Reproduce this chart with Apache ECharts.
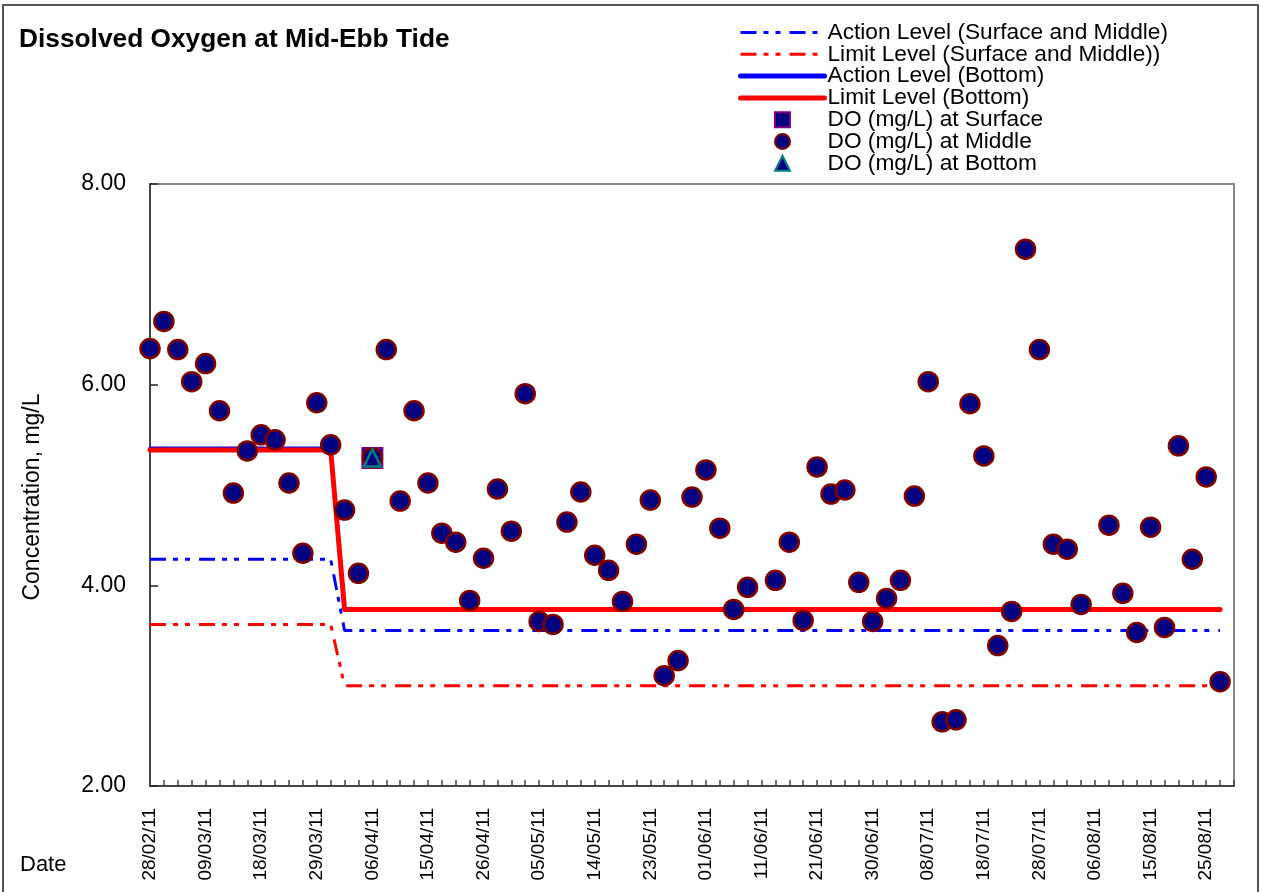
<!DOCTYPE html>
<html>
<head>
<meta charset="UTF-8">
<title>Dissolved Oxygen at Mid-Ebb Tide</title>
<script src="https://cdn.jsdelivr.net/npm/echarts@6/dist/echarts.min.js"></script>
<style>
  html, body { margin: 0; padding: 0; background: #fff; }
  #chart { width: 1261px; height: 892px; }
</style>
</head>
<body>
<div id="chart"></div>
<script type="text/javascript">
// sampling dates (category axis)
var dates = [
  '28/02/11','02/03/11','04/03/11','07/03/11','09/03/11','11/03/11','14/03/11','16/03/11',
  '18/03/11','21/03/11','23/03/11','25/03/11','29/03/11','31/03/11','01/04/11','04/04/11',
  '06/04/11','08/04/11','11/04/11','13/04/11','15/04/11','18/04/11','20/04/11','21/04/11',
  '26/04/11','28/04/11','29/04/11','03/05/11','05/05/11','07/05/11','09/05/11','11/05/11',
  '14/05/11','16/05/11','18/05/11','20/05/11','23/05/11','25/05/11','27/05/11','30/05/11',
  '01/06/11','03/06/11','07/06/11','09/06/11','11/06/11','14/06/11','16/06/11','18/06/11',
  '21/06/11','23/06/11','25/06/11','28/06/11','30/06/11','02/07/11','04/07/11','06/07/11',
  '08/07/11','11/07/11','13/07/11','15/07/11','18/07/11','20/07/11','22/07/11','25/07/11',
  '28/07/11','30/07/11','01/08/11','03/08/11','06/08/11','09/08/11','11/08/11','13/08/11',
  '15/08/11','17/08/11','19/08/11','22/08/11','25/08/11','27/08/11','29/08/11'
];

// DO at middle depth, mg/L
var doMiddle = [
  6.36, 6.63, 6.35, 6.03, 6.21, 5.74, 4.92, 5.34, 5.50, 5.45,
  5.02, 4.32, 5.82, 5.40, 4.75, 4.12, 5.27, 6.35, 4.84, 5.74,
  5.02, 4.52, 4.43, 3.85, 4.27, 4.96, 4.54, 5.91, 3.64, 3.61,
  4.63, 4.93, 4.30, 4.15, 3.84, 4.41, 4.85, 3.10, 3.25, 4.88,
  5.15, 4.57, 3.76, 3.98, null, 4.05, 4.43, 3.65, 5.18, 4.91,
  4.95, 4.03, 3.64, 3.87, 4.05, 4.89, 6.03, 2.64, 2.66, 5.81,
  5.29, 3.40, 3.74, 7.35, 6.35, 4.41, 4.36, 3.81, null, 4.60,
  3.92, 3.53, 4.58, 3.58, 5.39, 4.26, 5.08, 3.04, null
];

// surface / bottom only sampled once (06/04/11)
var doSurface = [];
var doBottom = [];
var actionSM = [];
var limitSM = [];
var actionB = [];
var limitB = [];

// level values before / after the change on 01/04/11
var levelsBefore = { actionSM: 4.26, limitSM: 3.61, actionB: 5.37, limitB: 5.35 };
var levelsAfter = { actionSM: 3.55, limitSM: 3.00, actionB: 3.77, limitB: 3.76 };
var changeIdx = 14;
var lastIdx = 77;

for (var i = 0; i < dates.length; i++) {
  doSurface.push(i === 16 ? 5.27 : null);
  doBottom.push(i === 16 ? 5.27 : null);
  var lv = i < changeIdx ? levelsBefore : levelsAfter;
  var on = i <= lastIdx;
  actionSM.push(on ? lv.actionSM : null);
  limitSM.push(on ? lv.limitSM : null);
  actionB.push(on ? lv.actionB : null);
  limitB.push(on ? lv.limitB : null);
}

var FONT = 'Liberation Sans, Arial, sans-serif';
var dashDot = [16, 7, 5, 7, 5, 9];
var noMarker = { color: 'rgba(0,0,0,0)', borderColor: 'rgba(0,0,0,0)', borderWidth: 0 };

var chart = echarts.init(document.getElementById('chart'));

chart.setOption({
  animation: false,
  backgroundColor: '#fff',
  textStyle: { fontFamily: FONT, color: '#000' },
  title: {
    text: 'Dissolved Oxygen at Mid-Ebb Tide',
    left: 19,
    top: 27,
    padding: 0,
    textStyle: { fontFamily: FONT, fontSize: 26.3, fontWeight: 'bold', color: '#000' }
  },
  legend: {
    orient: 'vertical',
    left: 738,
    top: 21,
    itemWidth: 84,
    itemHeight: 15,
    itemGap: -1.2,
    padding: 0,
    selectedMode: false,
    textStyle: { fontFamily: FONT, fontSize: 22.7, lineHeight: 21.8, color: '#000', padding: [0, 0, 0, -2] },
    data: [
      { name: 'Action Level (Surface and Middle)', itemStyle: noMarker, lineStyle: { width: 3 } },
      { name: 'Limit Level (Surface and Middle))', itemStyle: noMarker, lineStyle: { width: 3 } },
      { name: 'Action Level (Bottom)', itemStyle: noMarker, lineStyle: { width: 5 } },
      { name: 'Limit Level (Bottom)', itemStyle: noMarker, lineStyle: { width: 5 } },
      { name: 'DO (mg/L) at Surface', icon: 'path://M0,0L10,0L10,10L0,10Z' },
      { name: 'DO (mg/L) at Middle', icon: 'circle' },
      { name: 'DO (mg/L) at Bottom', icon: 'path://M5,0L10,10L0,10Z' }
    ]
  },
  grid: {
    left: 150,
    right: 27,
    top: 184,
    bottom: 106,
    show: true,
    borderColor: '#888',
    borderWidth: 2,
    containLabel: false
  },
  xAxis: {
    type: 'category',
    data: dates,
    boundaryGap: false,
    axisLine: { lineStyle: { color: '#444', width: 2 } },
    axisTick: { inside: true, length: 6, interval: 0, lineStyle: { color: '#444', width: 1.5 } },
    axisLabel: { interval: 3, rotate: 90, fontSize: 19, margin: 22, color: '#000', fontFamily: FONT },
    splitLine: { show: false }
  },
  yAxis: {
    type: 'value',
    min: 2,
    max: 8,
    interval: 2,
    axisLine: { show: true, lineStyle: { color: '#444', width: 2 } },
    axisTick: { show: true, inside: true, length: 8, lineStyle: { color: '#222', width: 1.5 } },
    axisLabel: {
      fontSize: 23, margin: 24, color: '#000', fontFamily: FONT,
      formatter: function (v) { return v.toFixed(2); }
    },
    splitLine: { show: false }
  },
  graphic: [
    {
      type: 'rect', silent: true, z: 100,
      shape: { x: 3, y: 5, width: 1255, height: 900 },
      style: { fill: 'none', stroke: '#555', lineWidth: 2 }
    },
    {
      type: 'text', x: 20, y: 865,
      style: { text: 'Date', fontSize: 22, fontFamily: FONT, fill: '#000', textVerticalAlign: 'middle' }
    },
    {
      type: 'text', x: 33, y: 497, rotation: Math.PI / 2,
      style: {
        text: 'Concentration, mg/L', fontSize: 23, fontFamily: FONT, fill: '#000',
        textAlign: 'center', textVerticalAlign: 'middle'
      }
    }
  ],
  series: [
    {
      name: 'Action Level (Surface and Middle)',
      type: 'line', data: actionSM, symbol: 'none',
      lineStyle: { color: '#0000ff', width: 3, type: dashDot, cap: 'butt' },
      itemStyle: { color: '#0000ff' }, z: 2
    },
    {
      name: 'Limit Level (Surface and Middle))',
      type: 'line', data: limitSM, symbol: 'none',
      lineStyle: { color: '#ff0000', width: 3, type: dashDot, cap: 'butt' },
      itemStyle: { color: '#ff0000' }, z: 2
    },
    {
      name: 'Action Level (Bottom)',
      type: 'line', data: actionB, symbol: 'none',
      lineStyle: { color: '#0000ff', width: 3, cap: 'round' },
      itemStyle: { color: '#0000ff' }, z: 2
    },
    {
      name: 'Limit Level (Bottom)',
      type: 'line', data: limitB, symbol: 'none',
      lineStyle: { color: '#ff0000', width: 5, cap: 'round', join: 'round' },
      itemStyle: { color: '#ff0000' }, z: 2
    },
    {
      name: 'DO (mg/L) at Surface',
      type: 'scatter', data: doSurface, symbol: 'rect', symbolSize: 20,
      itemStyle: { color: '#000080', borderColor: '#800080', borderWidth: 2, opacity: 1 }, z: 3
    },
    {
      name: 'DO (mg/L) at Middle',
      type: 'scatter', data: doMiddle, symbol: 'circle', symbolSize: 19,
      itemStyle: { color: '#000080', borderColor: '#800000', borderWidth: 2.5, opacity: 1 }, z: 4
    },
    {
      name: 'DO (mg/L) at Bottom',
      type: 'scatter', data: doBottom, symbol: 'triangle', symbolSize: 17,
      itemStyle: { color: '#000080', borderColor: '#008080', borderWidth: 2.5, opacity: 1 }, z: 5
    }
  ]
});
</script>
</body>
</html>
